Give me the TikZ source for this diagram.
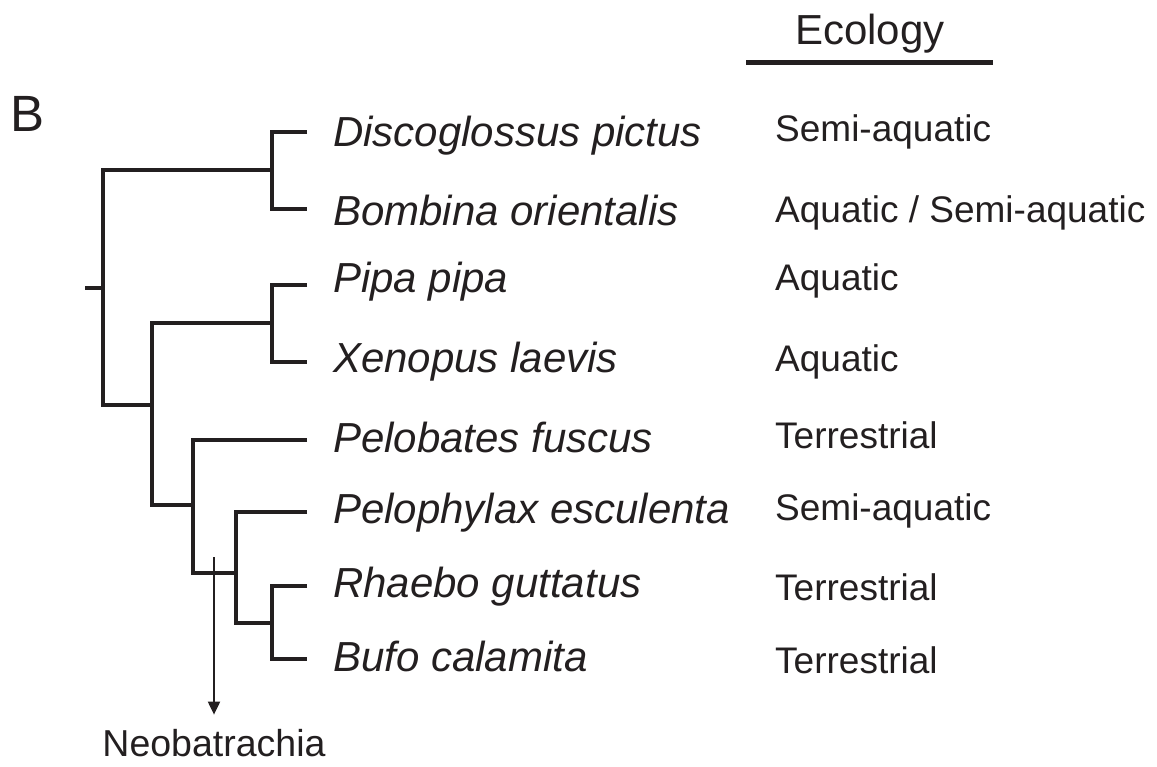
\documentclass[tikz,border=0pt]{standalone}
\usepackage{fontspec}
\setmainfont{Liberation Sans}
\usepackage{xcolor}
\usetikzlibrary{arrows.meta, positioning}
\definecolor{ink}{RGB}{35,31,32}

\begin{document}
\begin{tikzpicture}[
  x=1pt, y=-1pt,
  branch/.style={draw=ink, line width=4.5pt},
  taxon/.style={anchor=base west, inner sep=0pt, text=ink, font=\fontsize{42}{48}\selectfont\itshape},
  habit/.style={anchor=base west, inner sep=0pt, text=ink, font=\fontsize{37}{44}\selectfont},
  arr/.style={-{Triangle[length=13pt, width=12pt]}, line width=2pt, draw=ink}
]
  \useasboundingbox (0,0) rectangle (1157,767);

  % 1. Panel label and column header
  \node[anchor=base west, inner sep=0pt, text=ink, font=\fontsize{51}{56}\selectfont] (panel) at (10,132) {B};
  \node[anchor=base, inner sep=0pt, text=ink, font=\fontsize{42}{48}\selectfont] (ecol) at (870,45) {Ecology};
  \coordinate (ulL) at (746,62.5);
  \coordinate (ulR) at (993,62.5);
  \draw[draw=ink, line width=5pt] (ulL) -- (ulR);

  % 2. Tips of the tree
  \coordinate (tDis) at (307,132);
  \coordinate (tBom) at (307,209);
  \coordinate (tPip) at (307,285);
  \coordinate (tXen) at (307,362);
  \coordinate (tPel) at (307,440);
  \coordinate (tPhy) at (307,512);
  \coordinate (tRha) at (307,586);
  \coordinate (tBuf) at (307,659);

  % Internal nodes
  \coordinate (nDB)   at (272,170);
  \coordinate (nPX)   at (272,323);
  \coordinate (nRB)   at (272,623);
  \coordinate (nPRB)  at (236,573);
  \coordinate (nNeo)  at (193,505);
  \coordinate (nPXN)  at (152,405);
  \coordinate (nRoot) at (103,288);
  \coordinate (stub)  at (85,288);

  % Branches
  \draw[branch] (tDis) -| (nDB) |- (tBom);
  \draw[branch] (tPip) -| (nPX) |- (tXen);
  \draw[branch] (tRha) -| (nRB) |- (tBuf);
  \draw[branch] (tPhy) -| (nPRB) |- (nRB);
  \draw[branch] (tPel) -| (nNeo) |- (nPRB);
  \draw[branch] (nPX) -| (nPXN) |- (nNeo);
  \draw[branch] (nDB) -| (nRoot) |- (nPXN);
  \draw[branch] (stub) -- (nRoot);

  % 3. Species names
  \node[taxon] (dis) at (333,147) {Discoglossus pictus};
  \node[taxon] (bom) at (333,226) {Bombina orientalis};
  \node[taxon] (pip) at (333,293) {Pipa pipa};
  \node[taxon] (xen) at (333,373) {Xenopus laevis};
  \node[taxon] (pel) at (333,452) {Pelobates fuscus};
  \node[taxon] (phy) at (333,523) {Pelophylax esculenta};
  \node[taxon] (rha) at (333,597) {Rhaebo guttatus};
  \node[taxon] (buf) at (333,671) {Bufo calamita};

  % 4. Ecology column
  \node[habit] (eDis) at (775,142) {Semi-aquatic};
  \node[habit] (eBom) at (775,223) {Aquatic / Semi-aquatic};
  \node[habit] (ePip) at (775,291) {Aquatic};
  \node[habit] (eXen) at (775,371) {Aquatic};
  \node[habit] (ePel) at (775,448) {Terrestrial};
  \node[habit] (ePhy) at (775,520) {Semi-aquatic};
  \node[habit] (eRha) at (775,600) {Terrestrial};
  \node[habit] (eBuf) at (775,673) {Terrestrial};

  % 5. Neobatrachia marker
  \node[anchor=base, inner sep=0pt, text=ink, font=\fontsize{37.5}{42}\selectfont] (neo) at (214,756) {Neobatrachia};
  \coordinate (aTop) at (214,557);
  \draw[arr, shorten >=14pt] (aTop) -- (neo.north);

\end{tikzpicture}
\end{document}
